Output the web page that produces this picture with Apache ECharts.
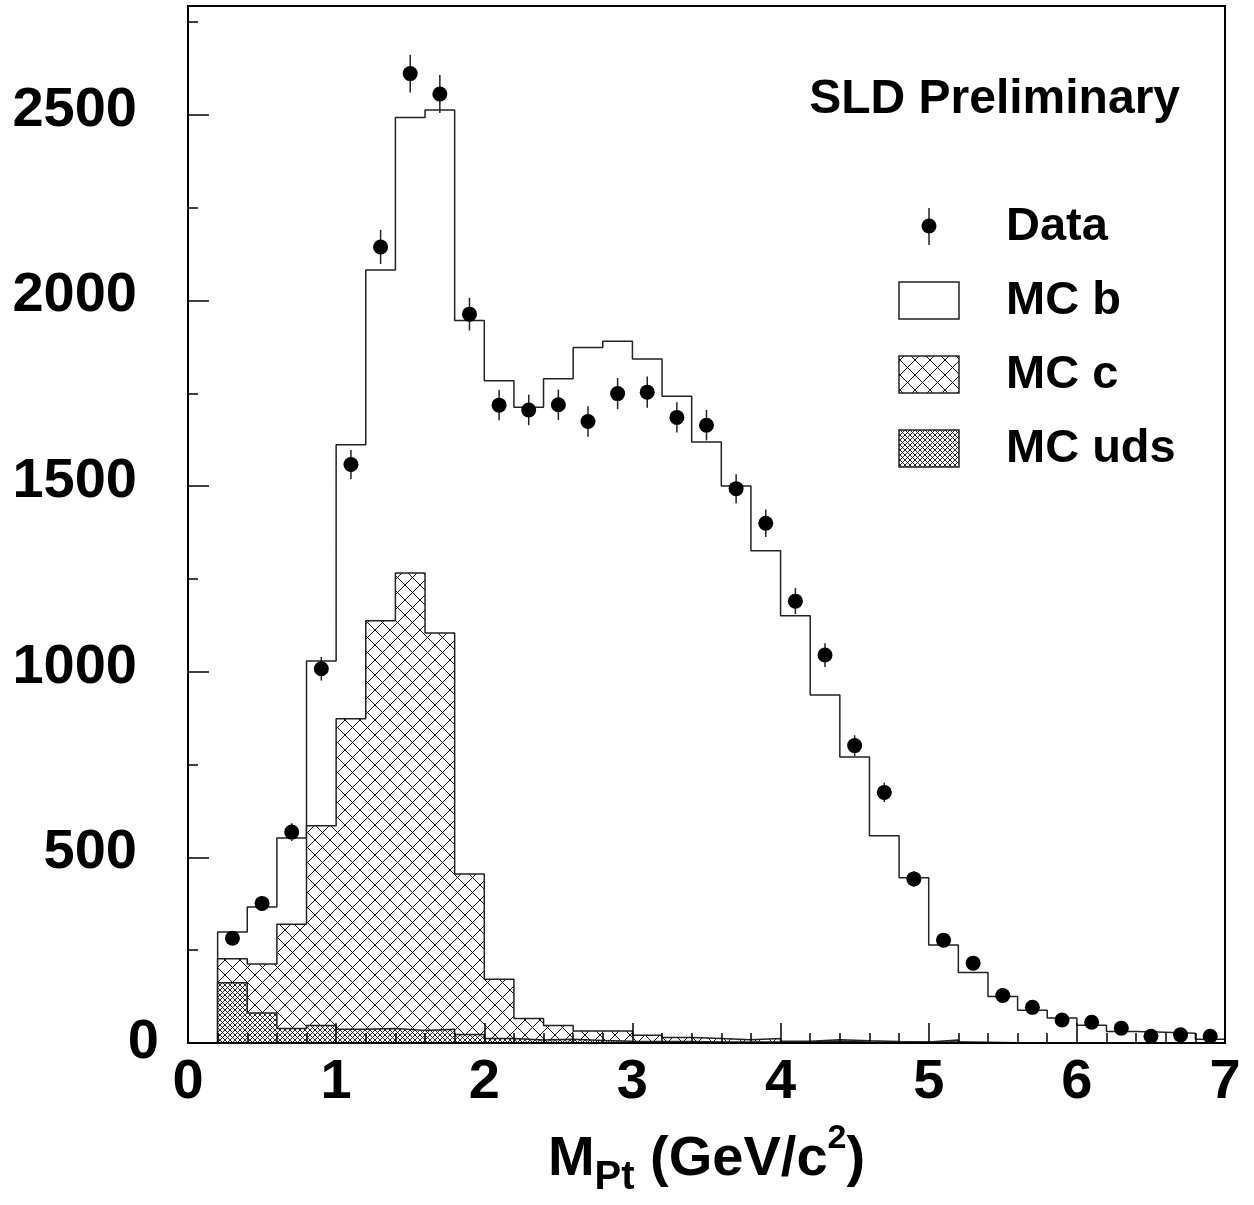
<!DOCTYPE html>
<html><head><meta charset="utf-8">
<script src="https://cdn.jsdelivr.net/npm/echarts@6/dist/echarts.min.js"></script>
<style>html,body{margin:0;padding:0;background:#fff}#c{width:1254px;height:1205px}</style>
</head><body><div id="c"></div>
<script>
// ---- data ----
const binLow = [0.2,0.4,0.6,0.8,1.0,1.2,1.4,1.6,1.8,2.0,2.2,2.4,2.6,2.8,3.0,3.2,3.4,3.6,3.8,4.0,4.2,4.4,4.6,4.8,5.0,5.2,5.4,5.6,5.8,6.0,6.2,6.4,6.6,6.8];
const binEnd = 7.0;
const bCounts   = [72,153,232,444,738,945,1227,1409,1491,1612,1646,1742,1841,1858,1821,1727,1607,1491,1314,1146,928,764,554,442,256,188,124,87,67,48,31,29,26,10];
const cCounts   = [65,132,281,538,836,1098,1232,1067,432,160,58,37,25,27,17,11,9,6,9,2,4,3,2,1,5,1,0,1,0,0,0,0,0,0];
const udsCounts = [162,81,39,47,37,39,34,37,23,12,8,10,7,5,4,4,3,3,3,3,5,3,2,2,3,1,1,0,0,0,0,0,0,0];
const dataX   = [0.3,0.5,0.7,0.9,1.1,1.3,1.5,1.7,1.9,2.1,2.3,2.5,2.7,2.9,3.1,3.3,3.5,3.7,3.9,4.1,4.3,4.5,4.7,4.9,5.1,5.3,5.5,5.7,5.9,6.1,6.3,6.5,6.7,6.9];
const dataY   = [282,376,568,1008,1558,2144,2611,2556,1963,1718,1705,1719,1674,1749,1753,1685,1664,1493,1400,1190,1045,801,675,442,277,215,128,96,62,56,40,18,22,18];
const dataErr = [17,19,24,32,39,46,51,51,44,41,41,41,41,42,42,41,41,39,37,35,32,28,26,21,17,15,11,10,8,7,6,4,5,4];
const xTicks = [0,1,2,3,4,5,6,7];
const yTicks = [0,500,1000,1500,2000,2500];
const yMax = 2793;
const legendNames = ['Data','MC b','MC c','MC uds'];

// ---- stacking (as drawn: uds, c on uds, b on c) ----
const udsTop = udsCounts.slice();
const cTop = cCounts.map((v,i)=>v+udsTop[i]);
const allTop = bCounts.map((v,i)=>v+cTop[i]);
function stepPts(vals){
  const pts=[[binLow[0],0]];
  vals.forEach((v,i)=>pts.push([binLow[i],v]));
  pts.push([binEnd,vals[vals.length-1]]);
  pts.push([binEnd,0]);
  return pts;
}
function hatch(size, lw){
  const cv=document.createElement('canvas'); cv.width=cv.height=size;
  const g=cv.getContext('2d'); g.fillStyle='#fff'; g.fillRect(0,0,size,size);
  g.strokeStyle='#111'; g.lineWidth=lw; g.beginPath();
  for(const o of [-size,0,size]){ g.moveTo(o,0); g.lineTo(o+size,size); g.moveTo(o+size,0); g.lineTo(o,size); }
  g.stroke(); return cv;
}
const cPat = {image: hatch(15,1), repeat:'repeat'};
const udsPat = {image: hatch(5,0.9), repeat:'repeat'};
const FONT='"Liberation Sans", Arial, Helvetica, sans-serif';
const lineCol='#222';

function histSeries(name, vals, fill, z){
  return {type:'line', name, step:'end', data:stepPts(vals), symbol:'none', z,
    lineStyle:{color:lineCol,width:1.5}, areaStyle:{color:fill,opacity:1}, silent:true, animation:false};
}

const chart = echarts.init(document.getElementById('c'), null, {renderer:'canvas'});
chart.setOption({
  animation:false,
  backgroundColor:'#fff',
  grid:{left:188,right:29,top:6,bottom:162,show:true,borderColor:'#000',borderWidth:2,backgroundColor:'transparent',z:10},
  xAxis:{type:'value',min:xTicks[0],max:xTicks[xTicks.length-1],interval:1,z:10,
    axisLine:{show:true,lineStyle:{color:'#000',width:2}},
    axisTick:{inside:true,length:20,lineStyle:{color:'#000',width:1.5}},
    minorTick:{show:true,splitNumber:5,length:10,lineStyle:{color:'#000',width:1.5}},
    splitLine:{show:false},
    axisLabel:{margin:12,color:'#000',fontSize:56,fontWeight:'bold',fontFamily:FONT},
    name:'{m|M}{sub|Pt}{m| (GeV/c}{sup|2}{m|)}', nameLocation:'middle', nameGap:79,
    nameTextStyle:{color:'#000',rich:{
      m:{fontSize:56,fontWeight:'bold',fontFamily:FONT,lineHeight:76,color:'#000'},
      sub:{fontSize:40,fontWeight:'bold',fontFamily:FONT,lineHeight:40,verticalAlign:'bottom',color:'#000'},
      sup:{fontSize:34,fontWeight:'bold',fontFamily:FONT,lineHeight:48,verticalAlign:'top',color:'#000'}
    }}
  },
  yAxis:[{type:'value',min:0,max:yMax,interval:500,z:10,position:'left',
    axisLine:{show:true,lineStyle:{color:'#000',width:2}},
    axisTick:{inside:true,length:21,lineStyle:{color:'#000',width:1.5}},
    splitLine:{show:false},
    axisLabel:{margin:29,showMaxLabel:false,
      formatter:v=> yTicks.indexOf(v)<0 ? '' : (v===0 ? '{z|0}' : '{n|'+v+'}'),
      rich:{
        n:{fontSize:56,fontWeight:'bold',fontFamily:FONT,color:'#000',padding:[0,22,9,0]},
        z:{fontSize:56,fontWeight:'bold',fontFamily:FONT,color:'#000'}
      }}
  },{type:'value',min:0,max:yMax,interval:250,z:10,position:'left',offset:0,
    axisLine:{show:false},axisLabel:{show:false},splitLine:{show:false},
    axisTick:{inside:true,length:10,lineStyle:{color:'#000',width:1.5}}
  }],
  series:[
    histSeries(legendNames[1], allTop, '#fff', 2),
    histSeries(legendNames[2], cTop, cPat, 3),
    histSeries(legendNames[3], udsTop, udsPat, 4),
    {type:'custom', name:'errors', z:6, silent:true,
      data:dataX.map((x,i)=>[x,dataY[i],dataErr[i]]),
      encode:{x:0,y:1},
      renderItem:(p,api)=>{
        const x=api.value(0),y=api.value(1),e=api.value(2);
        const a=api.coord([x,y-e]), b=api.coord([x,y+e]);
        return {type:'line',shape:{x1:a[0],y1:a[1],x2:b[0],y2:b[1]},style:{stroke:'#222',lineWidth:1.5}};
      }},
    {type:'scatter', name:legendNames[0], z:7, symbol:'circle', symbolSize:15,
      itemStyle:{color:'#000',opacity:1}, data:dataX.map((x,i)=>[x,dataY[i]])}
  ],
  graphic:[
    {type:'text',x:1180,y:100,z:20,style:{text:'SLD Preliminary',font:'bold 48px '+FONT,fill:'#000',textAlign:'right',textVerticalAlign:'middle'}},
    {type:'line',z:20,shape:{x1:929,y1:208,x2:929,y2:245},style:{stroke:'#222',lineWidth:1.5}},
    {type:'circle',z:20,shape:{cx:929,cy:226,r:7.5},style:{fill:'#000'}},
    {type:'rect',z:20,shape:{x:899,y:282,width:60,height:37},style:{fill:'#fff',stroke:'#222',lineWidth:1.5}},
    {type:'rect',z:20,shape:{x:899,y:356,width:60,height:37},style:{fill:cPat,stroke:'#222',lineWidth:1.5}},
    {type:'rect',z:20,shape:{x:899,y:430,width:60,height:37},style:{fill:udsPat,stroke:'#222',lineWidth:1.5}},
    {type:'text',x:1006,y:227,z:20,style:{text:legendNames[0],font:'bold 47px '+FONT,fill:'#000',textVerticalAlign:'middle'}},
    {type:'text',x:1006,y:301,z:20,style:{text:legendNames[1],font:'bold 47px '+FONT,fill:'#000',textVerticalAlign:'middle'}},
    {type:'text',x:1006,y:375,z:20,style:{text:legendNames[2],font:'bold 47px '+FONT,fill:'#000',textVerticalAlign:'middle'}},
    {type:'text',x:1006,y:449,z:20,style:{text:legendNames[3],font:'bold 47px '+FONT,fill:'#000',textVerticalAlign:'middle'}}
  ]
});
</script></body></html>
